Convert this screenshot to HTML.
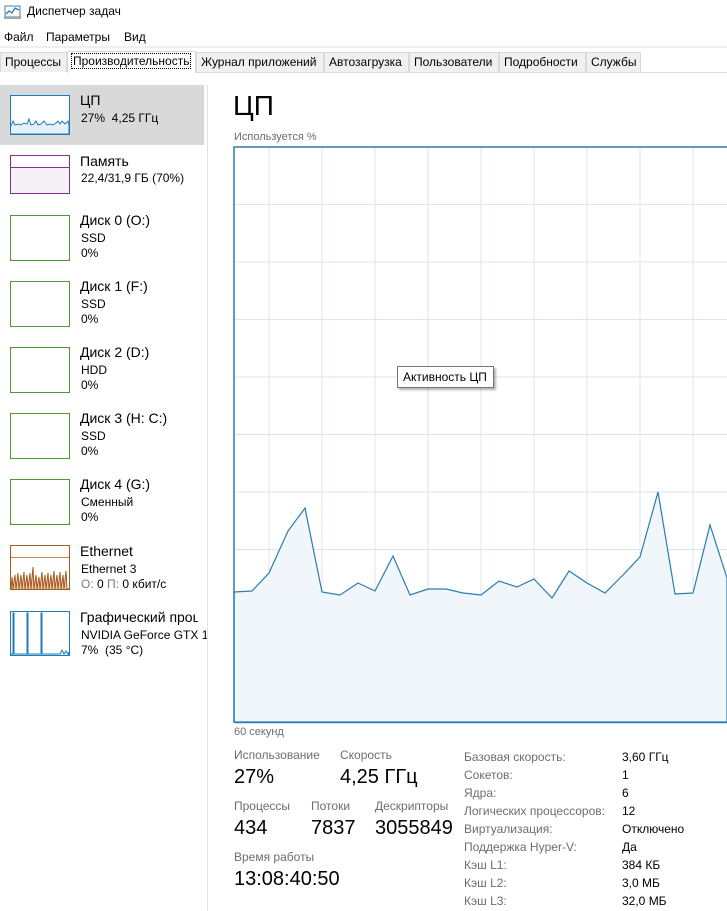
<!DOCTYPE html>
<html><head><meta charset="utf-8"><style>
*{margin:0;padding:0;box-sizing:border-box}
body{width:727px;height:911px;overflow:hidden;background:#fff;font-family:"Segoe UI","Liberation Sans","DejaVu Sans",sans-serif;color:#000;position:relative}
.a{position:absolute;white-space:nowrap}
.tab{position:absolute;top:52px;height:20px;background:#f0f0f0;border:1px solid #d9d9d9;border-bottom:none;font-size:12px;line-height:19px;padding-left:4px}
.th{position:absolute;left:10px;width:60px;height:46px;border:1.5px solid #4c9c2a;background:#fff}
.t1{font-size:14px;left:80px}
.t2{font-size:12px;left:81px}
.g{color:#6d6d6d;font-size:12px}
.v{font-size:12px}
</style></head><body>
<svg class="a" style="left:4px;top:4px" width="18" height="16"><rect x="1" y="2" width="15" height="11" fill="#fff" stroke="#4a7ca8"/><polyline points="2,10 5,7 8,9 11,4 15,6" fill="none" stroke="#2a7ab8" stroke-width="1.3"/><rect x="0" y="13" width="17" height="2" fill="#9aa"/></svg>
<div class="a" style="left:27px;top:4px;font-size:12px">Диспетчер задач</div>
<div class="a" style="left:4px;top:30px;font-size:12px">Файл</div>
<div class="a" style="left:46px;top:30px;font-size:12px">Параметры</div>
<div class="a" style="left:124px;top:30px;font-size:12px">Вид</div>
<div class="a" style="left:0;top:46px;width:727px;height:2px;background:#f0f0f0"></div>
<div class="tab" style="left:0;width:67px">Процессы</div>
<div class="tab" style="left:67px;width:129px;background:#fff;top:51px;height:22px;border-bottom:none"><span style="outline:1px dotted #000;padding:0 1px">Производительность</span></div>
<div class="tab" style="left:196px;width:128px">Журнал приложений</div>
<div class="tab" style="left:324px;width:85px">Автозагрузка</div>
<div class="tab" style="left:409px;width:90px">Пользователи</div>
<div class="tab" style="left:499px;width:87px">Подробности</div>
<div class="tab" style="left:586px;width:55px">Службы</div>
<div class="a" style="left:196px;top:72px;width:531px;height:1px;background:#d9d9d9"></div>
<div class="a" style="left:0;top:85px;width:204px;height:60px;background:#d9d9d9"></div>
<div class="a" style="left:207px;top:85px;width:1px;height:826px;background:#e3e3e3"></div>
<svg class="a" style="left:10px;top:95px" width="60" height="40"><rect x=".5" y=".5" width="59" height="39" fill="#fff" stroke="#1f7bbb"/><polyline points="1,31 3,26 5,30 8,29 11,30 14,28 17,29 19,24 21,30 24,29 26,26 28,30 31,29 34,26 37,30 40,29 43,30 46,28 48,26 50,29 52,26 55,29 58,26 59,30 59,39 1,39" fill="#e6f1fb" stroke="#1f7bbb" stroke-width="1"/></svg>
<div class="a t1" style="top:92px">ЦП</div>
<div class="a t2" style="top:111px">27%&nbsp; 4,25 ГГц</div>
<svg class="a" style="left:10px;top:155px" width="60" height="40"><rect x=".5" y=".5" width="59" height="38" fill="#f4f2f4" stroke="#8b2a9b"/><rect x="1" y="1" width="58" height="11" fill="#fff"/><line x1="1" y1="12.5" x2="59" y2="12.5" stroke="#8b2a9b"/></svg>
<div class="a t1" style="top:153px">Память</div>
<div class="a t2" style="top:171px">22,4/31,9 ГБ (70%)</div>

<div class="th" style="top:215px"></div><div class="a t1" style="top:212px">Диск 0 (O:)</div><div class="a t2" style="top:231px">SSD</div><div class="a t2" style="top:246px">0%</div>
<div class="th" style="top:281px"></div><div class="a t1" style="top:278px">Диск 1 (F:)</div><div class="a t2" style="top:297px">SSD</div><div class="a t2" style="top:312px">0%</div>
<div class="th" style="top:347px"></div><div class="a t1" style="top:344px">Диск 2 (D:)</div><div class="a t2" style="top:363px">HDD</div><div class="a t2" style="top:378px">0%</div>
<div class="th" style="top:413px"></div><div class="a t1" style="top:410px">Диск 3 (H: C:)</div><div class="a t2" style="top:429px">SSD</div><div class="a t2" style="top:444px">0%</div>
<div class="th" style="top:479px"></div><div class="a t1" style="top:476px">Диск 4 (G:)</div><div class="a t2" style="top:495px">Сменный</div><div class="a t2" style="top:510px">0%</div>

<svg class="a" style="left:10px;top:545px" width="60" height="46"><rect x=".5" y=".5" width="59" height="44" fill="#fff" stroke="#a7581b"/><line x1="1" y1="12.5" x2="59" y2="12.5" stroke="#c88a5a"/><polyline points="1,44 2,32 3,44 5,30 6,44 8,28 9,44 11,30 12,44 14,27 15,44 17,30 18,44 20,28 21,44 23,22 24,44 26,30 27,44 29,32 30,44 32,27 33,44 35,30 36,44 38,28 39,44 41,30 42,44 44,26 45,44 47,30 48,44 50,27 51,44 53,30 54,44 56,26 57,44 59,44" fill="#e9cdb6" stroke="#a7581b" stroke-width="1"/></svg>
<div class="a t1" style="top:543px">Ethernet</div>
<div class="a t2" style="top:562px">Ethernet 3</div>
<div class="a t2" style="top:577px"><span style="color:#777">О:</span> 0 <span style="color:#777">П:</span> 0 кбит/с</div>

<svg class="a" style="left:10px;top:611px" width="60" height="46"><rect x=".5" y=".5" width="59" height="44" fill="#fff" stroke="#1f7bbb"/><polyline points="1,44 1,43 3,43 3,2 4,2 4,43 17,43 17,2 18,2 18,43 31,43 31,2 32,2 32,43 50,43 52,39 54,43 56,40 58,43 59,41 59,44" fill="#e6f1fb" stroke="#1f7bbb" stroke-width="1"/></svg>
<div class="a t1" style="top:609px;width:118px;overflow:hidden">Графический процессор</div>
<div class="a t2" style="top:628px;width:126px;overflow:hidden">NVIDIA GeForce GTX 1080</div>
<div class="a t2" style="top:643px">7%&nbsp; (35 °C)</div>

<div class="a" style="left:233px;top:90px;font-size:28px;font-weight:300">ЦП</div>
<div class="a" style="left:234px;top:131px;font-size:11px;color:#6d6d6d">Используется %</div>
<svg class="a" style="left:233px;top:146px" width="494" height="578">
<rect x="1" y="1" width="500" height="576" fill="#fff"/>
<g stroke="#d9e6f0" stroke-width="1">
<line x1="36" y1="1" x2="36" y2="576"/><line x1="89" y1="1" x2="89" y2="576"/><line x1="142" y1="1" x2="142" y2="576"/><line x1="195" y1="1" x2="195" y2="576"/><line x1="248" y1="1" x2="248" y2="576"/><line x1="301" y1="1" x2="301" y2="576"/><line x1="354" y1="1" x2="354" y2="576"/><line x1="407" y1="1" x2="407" y2="576"/><line x1="460" y1="1" x2="460" y2="576"/>
<line x1="1" y1="58.5" x2="494" y2="58.5"/><line x1="1" y1="116" x2="494" y2="116"/><line x1="1" y1="173.5" x2="494" y2="173.5"/><line x1="1" y1="231" x2="494" y2="231"/><line x1="1" y1="288.5" x2="494" y2="288.5"/><line x1="1" y1="346" x2="494" y2="346"/><line x1="1" y1="403.5" x2="494" y2="403.5"/><line x1="1" y1="461" x2="494" y2="461"/><line x1="1" y1="518.5" x2="494" y2="518.5"/>
</g>
<polygon points="1,446 19,445 36,427 55,385 72,362 89,446 107,449 125,437 142,445 160,410 177,449 195,443 213,443 230,447 248,449 266,435 284,441 301,433 319,452 336,425 354,437 372,447 389,430 407,411 425,346 442,448 460,447 477,379 494,432 494,576 1,576" fill="#f1f6fb" stroke="#2b7cb2" stroke-width="1.2" stroke-linejoin="miter"/>
<polyline points="1,576 1,1 494,1" fill="none" stroke="#2b7cb2" stroke-width="1.5"/>
<line x1="1" y1="576.5" x2="494" y2="576.5" stroke="#2b7cb2" stroke-width="1.5"/>
</svg>
<div class="a" style="left:397px;top:366px;width:97px;height:22px;background:#fff;border:1px solid #767676;box-shadow:2px 2px 2px rgba(0,0,0,.3);font-size:12px;line-height:20px;padding-left:5px">Активность ЦП</div>
<div class="a" style="left:234px;top:726px;font-size:11px;color:#6d6d6d">60 секунд</div>

<div class="a g" style="left:234px;top:748px">Использование</div>
<div class="a g" style="left:340px;top:748px">Скорость</div>
<div class="a" style="left:234px;top:766px;font-size:20px">27%</div>
<div class="a" style="left:340px;top:766px;font-size:20px">4,25 ГГц</div>
<div class="a g" style="left:234px;top:799px">Процессы</div>
<div class="a g" style="left:311px;top:799px">Потоки</div>
<div class="a g" style="left:375px;top:799px">Дескрипторы</div>
<div class="a" style="left:234px;top:817px;font-size:20px">434</div>
<div class="a" style="left:311px;top:817px;font-size:20px">7837</div>
<div class="a" style="left:375px;top:817px;font-size:20px">3055849</div>
<div class="a g" style="left:234px;top:850px">Время работы</div>
<div class="a" style="left:234px;top:868px;font-size:20px">13:08:40:50</div>

<div class="a g" style="left:464px;top:748px;line-height:18px">Базовая скорость:<br>Сокетов:<br>Ядра:<br>Логических процессоров:<br>Виртуализация:<br>Поддержка Hyper-V:<br>Кэш L1:<br>Кэш L2:<br>Кэш L3:</div>
<div class="a v" style="left:622px;top:748px;line-height:18px">3,60 ГГц<br>1<br>6<br>12<br>Отключено<br>Да<br>384 КБ<br>3,0 МБ<br>32,0 МБ</div>
</body></html>
